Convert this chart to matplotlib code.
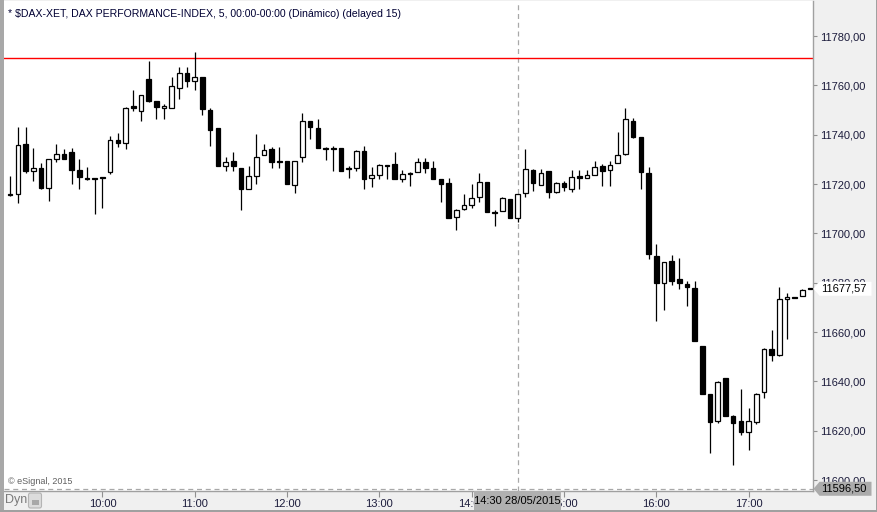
import matplotlib
matplotlib.use('Agg')
import matplotlib.pyplot as plt
from matplotlib.patches import Polygon, Rectangle, FancyBboxPatch
from matplotlib.transforms import IdentityTransform
import numpy as np

plt.rcParams['font.family'] = ['Liberation Sans', 'DejaVu Sans']

# ---------------- data (5-minute candles from 09:00) ----------------
opens = [11715.8, 11715.9, 11736.2, 11725.5, 11726.4, 11718.6, 11730.1, 11732.2, 11732.9, 11725.6,
         11722.3, 11722.3, 11722.8, 11724.7, 11737.9, 11736.8, 11751.5, 11749.5, 11762.5, 11753.6,
         11750.7, 11751.0, 11758.8, 11764.9, 11761.7, 11763.4, 11750.0, 11742.8, 11727.2, 11729.3,
         11726.4, 11718.2, 11723.4, 11731.7, 11734.3, 11729.3, 11729.3, 11719.6, 11730.9, 11745.6,
         11742.6, 11734.6, 11734.6, 11734.5, 11726.4, 11726.6, 11733.3, 11722.4, 11723.6, 11727.6,
         11728.1, 11722.2, 11724.5, 11724.8, 11728.9, 11726.4, 11722.0, 11720.4, 11706.6, 11709.8,
         11711.5, 11714.9, 11721.0, 11708.7, 11708.9, 11713.9, 11706.2, 11716.3, 11725.7, 11719.7,
         11725.1, 11716.6, 11720.4, 11717.9, 11723.2, 11722.4, 11723.6, 11727.2, 11725.6, 11728.5,
         11732.1, 11745.5, 11739.1, 11724.5, 11690.9, 11679.9, 11688.9, 11681.6, 11679.6, 11678.0,
         11654.5, 11635.1, 11623.8, 11641.4, 11626.2, 11624.1, 11619.4, 11623.6, 11635.7, 11653.3,
         11650.6, 11673.4, 11674.2, 11674.6, 11677.8]
highs = [11723.3, 11743.2, 11743.2, 11734.5, 11728.5, 11730.1, 11736.2, 11734.3, 11734.8, 11730.1,
         11727.1, 11722.3, 11722.8, 11739.6, 11740.9, 11751.1, 11758.3, 11756.0, 11769.9, 11753.6,
         11752.5, 11763.3, 11767.4, 11767.4, 11773.5, 11763.4, 11751.0, 11742.8, 11730.9, 11733.0,
         11726.4, 11727.4, 11740.2, 11736.2, 11735.2, 11735.2, 11729.3, 11729.3, 11748.7, 11745.6,
         11746.3, 11735.0, 11735.5, 11734.5, 11727.2, 11734.0, 11735.5, 11726.8, 11728.2, 11727.7,
         11733.0, 11725.7, 11724.7, 11730.5, 11730.5, 11729.4, 11722.0, 11722.4, 11710.0, 11716.0,
         11720.0, 11724.5, 11721.0, 11709.4, 11714.7, 11713.9, 11715.9, 11734.2, 11726.0, 11726.0,
         11725.1, 11721.0, 11721.3, 11725.7, 11725.7, 11725.7, 11729.4, 11728.2, 11729.4, 11741.0,
         11750.7, 11746.7, 11739.1, 11726.8, 11695.8, 11688.4, 11691.3, 11690.0, 11680.9, 11680.8,
         11654.5, 11635.1, 11640.3, 11641.4, 11626.6, 11637.1, 11629.4, 11635.4, 11653.6, 11661.0,
         11678.3, 11675.8, 11674.2, 11677.4, 11677.8]
lows = [11715.0, 11712.3, 11724.4, 11721.4, 11718.2, 11713.3, 11729.1, 11730.0, 11720.0, 11718.2,
        11721.5, 11707.8, 11710.2, 11724.0, 11735.2, 11734.3, 11749.5, 11745.7, 11753.4, 11746.3,
        11746.3, 11750.7, 11754.6, 11759.2, 11758.3, 11748.1, 11735.6, 11727.5, 11725.3, 11725.5,
        11709.3, 11718.2, 11720.2, 11731.7, 11726.7, 11726.7, 11720.0, 11716.3, 11729.1, 11738.4,
        11734.7, 11729.8, 11725.1, 11725.3, 11722.6, 11725.1, 11717.9, 11719.0, 11722.2, 11722.2,
        11722.2, 11721.0, 11719.4, 11724.8, 11724.4, 11722.2, 11712.9, 11706.2, 11701.2, 11709.6,
        11710.1, 11712.9, 11708.5, 11703.2, 11708.9, 11706.3, 11704.6, 11714.9, 11717.0, 11719.6,
        11714.3, 11716.3, 11717.2, 11716.7, 11717.9, 11722.4, 11723.6, 11719.4, 11719.4, 11728.5,
        11731.7, 11738.8, 11717.9, 11689.6, 11664.7, 11669.1, 11679.2, 11677.6, 11670.4, 11656.2,
        11635.1, 11610.8, 11623.2, 11626.2, 11606.0, 11618.2, 11612.1, 11622.8, 11633.2, 11648.1,
        11650.4, 11657.2, 11673.8, 11674.6, 11677.4]
closes = [11715.4, 11735.7, 11725.5, 11726.4, 11718.6, 11730.1, 11732.1, 11730.3, 11725.9, 11723.0,
          11721.9, 11721.9, 11722.4, 11737.9, 11736.6, 11750.9, 11750.7, 11756.0, 11753.8, 11751.1,
          11751.7, 11759.6, 11764.9, 11761.7, 11763.3, 11750.3, 11742.1, 11727.5, 11729.1, 11727.2,
          11718.2, 11723.2, 11731.0, 11733.7, 11729.1, 11728.9, 11720.0, 11729.3, 11745.5, 11743.0,
          11734.7, 11734.2, 11734.2, 11725.3, 11726.0, 11733.3, 11722.0, 11723.6, 11727.7, 11727.2,
          11722.2, 11724.0, 11724.1, 11728.9, 11726.7, 11722.2, 11720.2, 11706.2, 11709.6, 11711.5,
          11714.4, 11720.8, 11708.7, 11708.3, 11714.3, 11706.3, 11715.9, 11726.0, 11720.4, 11724.4,
          11716.6, 11720.6, 11718.8, 11723.0, 11722.4, 11723.6, 11726.8, 11725.1, 11727.7, 11731.7,
          11746.3, 11739.2, 11724.7, 11691.6, 11679.9, 11688.4, 11680.9, 11679.9, 11678.1, 11656.5,
          11635.1, 11623.4, 11639.6, 11626.2, 11623.2, 11619.4, 11624.1, 11635.1, 11653.2, 11650.7,
          11673.5, 11674.2, 11673.8, 11677.2, 11677.57]

start_minute = 0            # minutes after 09:00
bar_minutes = 5
xtick_labels = ['10:00', '11:00', '12:00', '13:00', '14:00', '15:00', '16:00', '17:00']
ytick_values = [11600, 11620, 11640, 11660, 11680, 11700, 11720, 11740, 11760, 11780]
ref_level = 11771.0
cross_minute = 330          # 14:30
cross_price = 11596.50
last_price = 11677.57
title = '* $DAX-XET, DAX PERFORMANCE-INDEX, 5, 00:00-00:00 (Dinámico) (delayed 15)'
cross_label = '14:30 28/05/2015'

# ---------------- figure ----------------
W, H = 878, 512
fig = plt.figure(figsize=(W / 100, H / 100), dpi=100, facecolor='#f0f0f0')


def frac(x0, y0, x1, y1):
    return [x0 / W, 1 - y1 / H, (x1 - x0) / W, (y1 - y0) / H]


ax = fig.add_axes(frac(4, 1, 813, 491))
ax.set_facecolor('white')

n = len(opens)
t = start_minute + np.arange(n) * bar_minutes
o = np.array(opens); h = np.array(highs); l = np.array(lows); c = np.array(closes)
up = c >= o

ax.vlines(t, l, h, color='black', lw=0.9, zorder=3)
bottoms = np.minimum(o, c)
heights = np.maximum(np.abs(c - o), 0.35)
ax.bar(t, heights, bottom=bottoms, width=3.0,
       color=np.where(up, 'white', 'black'), edgecolor='black', linewidth=0.9, zorder=4)

ax.axhline(ref_level, color='#ff0000', lw=1.0, zorder=2)
ax.axvline(cross_minute, color='#a8a8a8', lw=0.9, ls=(0, (4, 3)), zorder=1)
ax.axhline(cross_price, color='#a8a8a8', lw=0.9, ls=(0, (4, 3)), zorder=1)

ax.set_xlim(-4.0, 521.9)
ax.set_ylim(11595.6, 11794.2)

ax.set_xticks([60 * (k + 1) for k in range(len(xtick_labels))])
ax.set_xticklabels(xtick_labels)
ax.set_yticks(ytick_values)
ax.set_yticklabels([f'{v:.2f}'.replace('.', ',') for v in ytick_values])
ax.yaxis.tick_right()
ax.tick_params(axis='y', length=3, width=0.8, color='#909090', labelsize=8,
               labelcolor='#1c1c3c', pad=2)
ax.tick_params(axis='x', length=4, width=0.8, color='#909090', labelsize=8,
               labelcolor='#1c1c3c', pad=1.5)
for s in ['left', 'top']:
    ax.spines[s].set_visible(False)
for s in ['right', 'bottom']:
    ax.spines[s].set_color('#a0a0a0')
    ax.spines[s].set_linewidth(1.0)

# ---------------- annotations ----------------
fig.text(8 / W, 1 - 14 / H, title, fontsize=7.6, va='center', ha='left', color='#000033')
fig.text(8 / W, 1 - 482 / H, '\u00a9 eSignal, 2015', fontsize=6.5, va='center', ha='left',
         color='#606060')


def price_box(value, text, face):
    yd = ax.transData.transform((0, value))[1]
    pts = [(813.5, yd), (819.5, yd + 7), (871.5, yd + 7), (871.5, yd - 7), (819.5, yd - 7)]
    fig.add_artist(Polygon(pts, closed=True, transform=IdentityTransform(),
                           facecolor=face, edgecolor='none', zorder=5))
    fig.text(821 / W, yd / H, text, fontsize=8, va='center', ha='left', color='black', zorder=6)


price_box(last_price, f'{last_price:.2f}'.replace('.', ','), 'white')
price_box(cross_price, f'{cross_price:.2f}'.replace('.', ','), '#ababab')

# crosshair time label
xd = ax.transData.transform((cross_minute, 0))[0]
fig.add_artist(Rectangle((xd - 43.5, H - 510.5), 87, 19.5, transform=IdentityTransform(),
                         facecolor='#b0b0b0', edgecolor='none', zorder=5))
fig.text(xd / W, 1 - 501 / H, cross_label, fontsize=8, va='center', ha='center',
         color='black', zorder=6)

# Dyn + lock button
fig.text(5 / W, 1 - 500 / H, 'Dyn', fontsize=9, va='center', ha='left', color='#7a7a7a')
fig.add_artist(FancyBboxPatch((28.5, H - 508), 13, 15, boxstyle='round,pad=0,rounding_size=2',
                              transform=IdentityTransform(), facecolor='#dcdcdc',
                              edgecolor='#b4b4b4', lw=0.8, zorder=5))
fig.add_artist(Rectangle((31.5, H - 505), 7, 5, transform=IdentityTransform(),
                         facecolor='#a8a8a8', edgecolor='none', zorder=6))

# outer borders
fig.add_artist(Rectangle((0, 0), 3.5, H, transform=IdentityTransform(),
                         facecolor='#a8a8a8', edgecolor='none', zorder=7))
fig.add_artist(Rectangle((W - 2, 0), 2, H, transform=IdentityTransform(),
                         facecolor='#a0a0a0', edgecolor='none', zorder=7))
fig.add_artist(Rectangle((0, 0), W, 2, transform=IdentityTransform(),
                         facecolor='#a0a0a0', edgecolor='none', zorder=7))

fig.savefig('out.png', dpi=100, facecolor=fig.get_facecolor())
